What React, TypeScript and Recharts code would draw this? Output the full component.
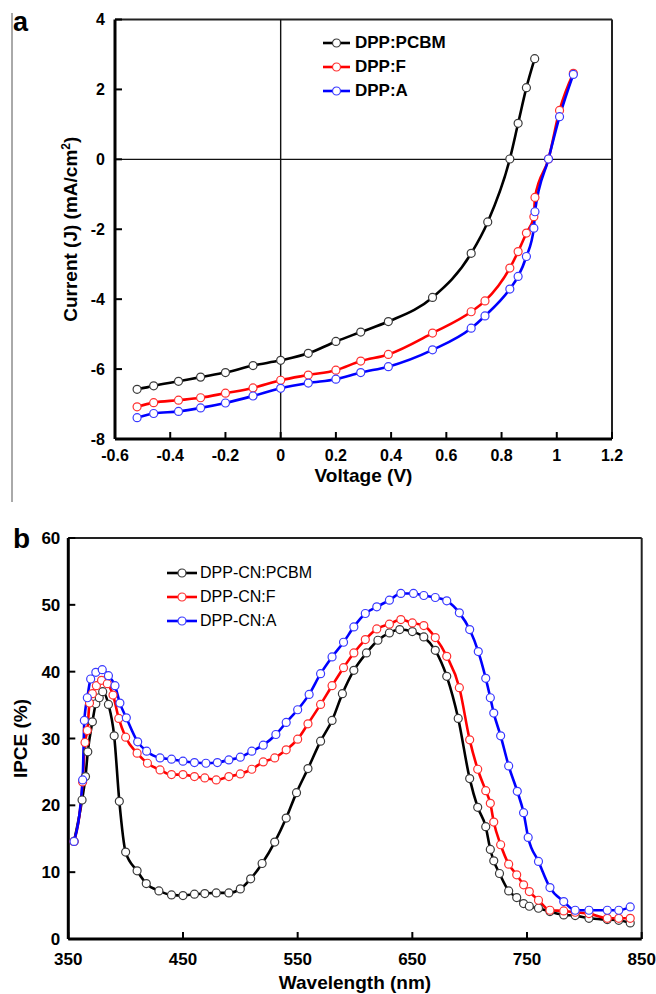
import React from 'react';
import { LineChart, Line, XAxis, YAxis, ReferenceLine, Legend, Label } from 'recharts';

const FONT = '"Liberation Sans", Arial, Helvetica, sans-serif';

// ---------- Panel a : J-V curves ----------
const pcbmVoltage = [-0.52, -0.46, -0.37, -0.29, -0.2, -0.1, 0, 0.1, 0.2, 0.29, 0.39, 0.55, 0.69, 0.75, 0.83, 0.86, 0.89, 0.92];
const pcbmCurrent = [-6.58, -6.48, -6.35, -6.23, -6.1, -5.9, -5.75, -5.55, -5.21, -4.94, -4.64, -3.95, -2.69, -1.79, 0.01, 1.03, 2.05, 2.88];

const fVoltage = [-0.52, -0.46, -0.37, -0.29, -0.2, -0.1, 0, 0.1, 0.2, 0.29, 0.39, 0.55, 0.69, 0.74, 0.83, 0.86, 0.89, 0.917, 0.921, 0.97, 1.01, 1.06];
const fCurrent = [-7.08, -6.96, -6.89, -6.82, -6.69, -6.54, -6.32, -6.17, -6.03, -5.77, -5.58, -4.97, -4.36, -4.05, -3.11, -2.64, -2.11, -1.64, -1.09, 0.01, 1.4, 2.46];

const aVoltage = [-0.52, -0.46, -0.37, -0.29, -0.2, -0.1, 0, 0.1, 0.2, 0.29, 0.39, 0.55, 0.69, 0.74, 0.83, 0.86, 0.89, 0.917, 0.921, 0.97, 1.01, 1.06];
const aCurrent = [-7.39, -7.27, -7.21, -7.11, -6.97, -6.77, -6.55, -6.4, -6.29, -6.1, -5.93, -5.45, -4.83, -4.48, -3.71, -3.35, -2.78, -1.97, -1.5, 0.01, 1.22, 2.43];

const voltageTicks = [-0.6, -0.4, -0.2, 0, 0.2, 0.4, 0.6, 0.8, 1, 1.2];
const currentTicks = [-8, -6, -4, -2, 0, 2, 4];
const seriesNamesA = ['DPP:PCBM', 'DPP:F', 'DPP:A'];

// ---------- Panel b : IPCE spectra ----------
const pcbmWl = [355, 362, 365, 367, 371, 374, 377, 380, 385, 390, 394.5, 400, 410, 418, 429, 440, 450, 460, 469, 479, 490, 500, 509, 519, 530, 540, 549, 559, 570, 580, 589, 599, 610, 620, 630, 639, 650, 660, 670, 680, 690, 700, 707, 714, 718, 721, 726, 734, 741, 747, 752, 760, 770, 782, 792, 804, 820, 830, 840];
const pcbmIpce = [14.6, 20.8, 24.3, 28.0, 32.5, 35.2, 36.1, 37.0, 35.1, 30.4, 20.6, 13.0, 10.2, 8.3, 7.2, 6.6, 6.5, 6.7, 6.8, 6.9, 6.9, 7.5, 9.0, 11.3, 14.5, 18.1, 21.9, 25.5, 29.6, 32.7, 36.7, 40.2, 42.8, 44.7, 45.8, 46.3, 46.0, 45.2, 43.2, 39.3, 33.0, 24.0, 19.7, 16.8, 13.4, 11.7, 9.8, 7.2, 6.2, 5.3, 4.9, 4.6, 4.1, 3.6, 3.5, 3.1, 2.9, 2.8, 2.4];

const fWl = [355, 362.5, 364.6, 366.6, 368.5, 371, 374.5, 379, 384, 389, 394, 400, 410, 419, 430, 440, 450, 460, 469, 479, 490, 500, 510, 520, 530, 540, 550, 559, 570, 580, 590, 599, 609, 619, 630, 640, 650, 660, 670, 680, 691, 700, 707, 714, 718, 721, 727, 734, 741, 747, 752, 760, 770, 782, 792, 804, 820, 830, 840];
const fIpce = [14.6, 23.5, 29.4, 31.2, 35.3, 36.7, 37.9, 38.7, 38.2, 36.5, 33.0, 30.2, 27.8, 26.3, 25.3, 24.6, 24.6, 24.3, 24.1, 23.8, 24.3, 24.7, 25.4, 26.5, 27.1, 28.3, 29.9, 32.2, 35.1, 37.9, 40.6, 42.8, 44.8, 46.4, 47.1, 47.8, 47.3, 46.9, 45.1, 42.3, 37.6, 29.8, 25.4, 22.2, 20.3, 17.5, 14.1, 11.2, 9.6, 8.1, 7.1, 5.8, 4.3, 4.2, 4.0, 3.8, 3.1, 3.1, 3.1];

const aWl = [355, 362.5, 364, 366.6, 369.5, 374, 379.6, 385, 390.7, 395, 400.6, 410.5, 418.3, 430, 440, 450, 460, 470, 480, 490, 500, 510, 520, 531, 540, 550, 560, 570, 580, 590, 599, 609, 619, 630, 640, 651, 660, 670, 680, 691, 700, 707.5, 714, 718, 721, 727, 734, 741.5, 747, 751, 760, 770, 782, 792, 804, 820, 830, 840];
const aIpce = [14.6, 23.8, 32.7, 36.1, 38.9, 39.9, 40.3, 39.4, 37.9, 35.3, 33.1, 29.5, 28.1, 27.1, 26.9, 26.6, 26.4, 26.3, 26.4, 26.8, 27.2, 28.1, 29.0, 30.6, 32.4, 34.3, 36.6, 39.7, 42.2, 44.4, 46.7, 48.7, 49.7, 50.7, 51.7, 51.7, 51.4, 51.1, 50.6, 48.8, 46.3, 43.0, 39.0, 36.1, 33.8, 30.4, 25.9, 22.1, 18.9, 15.2, 11.6, 7.7, 5.6, 4.3, 4.3, 4.3, 4.3, 4.8];

const wavelengthTicks = [350, 450, 550, 650, 750, 850];
const ipceTicks = [0, 10, 20, 30, 40, 50, 60];
const seriesNamesB = ['DPP-CN:PCBM', 'DPP-CN:F', 'DPP-CN:A'];

const zip = (xs: number[], ys: number[]) => xs.map((x, i) => ({ x, y: ys[i] }));

const LINE_COLORS = ['#000000', '#ff0000', '#0000ff'];
const MARKER_COLORS = ['#3a3a3a', '#ff3030', '#3a3aff'];

const makeLegend = (names: string[], opts: { bold: boolean; fontSize: number; lineW: number; gap: number }) =>
  function LegendContent() {
    return (
      <div style={{ fontFamily: FONT, fontWeight: opts.bold ? 'bold' : 'normal', fontSize: opts.fontSize, color: '#000' }}>
        {names.map((n, i) => (
          <div key={n} style={{ display: 'flex', alignItems: 'center', height: 24, whiteSpace: 'nowrap' }}>
            <svg width={opts.lineW} height={12} style={{ display: 'block' }}>
              <line x1={0} y1={6} x2={opts.lineW} y2={6} stroke={LINE_COLORS[i]} strokeWidth={2.6} />
              <circle cx={opts.lineW / 2} cy={6} r={4} fill="#fff" stroke={MARKER_COLORS[i]} strokeWidth={1.2} />
            </svg>
            <span style={{ marginLeft: opts.gap }}>{n}</span>
          </div>
        ))}
      </div>
    );
  };

const LegendA = makeLegend(seriesNamesA, { bold: true, fontSize: 17, lineW: 27, gap: 5 });
const LegendB = makeLegend(seriesNamesB, { bold: false, fontSize: 16, lineW: 30, gap: 3 });

const tickA = { fill: '#000', fontSize: 16, fontWeight: 'bold', fontFamily: FONT } as any;
const tickB = { fill: '#000', fontSize: 17, fontWeight: 'bold', fontFamily: FONT } as any;
const axisLineStyle = { stroke: '#000', strokeWidth: 3 };
const tickLineStyle = { stroke: '#000', strokeWidth: 2 };

const titleStyle = { fontFamily: FONT, fontWeight: 'bold', fontSize: 19, fill: '#000' } as any;

export default function App() {
  const seriesA = [zip(pcbmVoltage, pcbmCurrent), zip(fVoltage, fCurrent), zip(aVoltage, aCurrent)];
  const seriesB = [zip(pcbmWl, pcbmIpce), zip(fWl, fIpce), zip(aWl, aIpce)];

  return (
    <div style={{ position: 'absolute', left: 0, top: 0, width: 656, height: 994, background: '#fff' }}>
      {/* Panel a */}
      <div style={{ position: 'absolute', left: 0, top: 0 }}>
        <LineChart width={656} height={500} margin={{ top: 19.5, right: 44, bottom: 31, left: 55 }}>
          <XAxis
            type="number"
            dataKey="x"
            domain={[-0.6, 1.2]}
            ticks={voltageTicks}
            tickFormatter={(v: number) => String(Number(v.toFixed(1)))}
            tick={tickA}
            tickSize={-7}
            tickMargin={18}
            axisLine={axisLineStyle}
            tickLine={tickLineStyle}
            height={30}
            interval={0}
            allowDataOverflow
          >
            <Label
              content={(p: any) => {
                const vb = p.viewBox || { x: 115, y: 439, width: 497 };
                return (
                  <text x={vb.x + vb.width / 2} y={vb.y + 42.5} textAnchor="middle" {...titleStyle}>
                    Voltage (V)
                  </text>
                );
              }}
            />
          </XAxis>
          <YAxis
            type="number"
            domain={[-8, 4]}
            ticks={currentTicks}
            tick={tickA}
            tickSize={-7}
            tickMargin={17}
            axisLine={axisLineStyle}
            tickLine={tickLineStyle}
            width={60}
            interval={0}
            allowDataOverflow
          >
            <Label
              content={(p: any) => {
                const vb = p.viewBox || { x: 55, y: 19.5, height: 419.5 };
                const cx = 77;
                const cy = vb.y + vb.height / 2;
                return (
                  <text x={cx} y={cy} textAnchor="middle" transform={`rotate(-90, ${cx}, ${cy})`} {...titleStyle}>
                    Current (J) (mA/cm
                    <tspan dy={-7} fontSize={12}>2</tspan>
                    <tspan dy={7}>)</tspan>
                  </text>
                );
              }}
            />
          </YAxis>
          <ReferenceLine y={4} stroke="#222" strokeWidth={2} />
          <ReferenceLine x={1.2} stroke="#222" strokeWidth={2} />
          <ReferenceLine x={0} stroke="#111" strokeWidth={1.4} />
          <ReferenceLine y={0} stroke="#111" strokeWidth={1.4} />
          <Legend
            content={<LegendA />}
            layout="vertical"
            align="center"
            verticalAlign="middle"
            wrapperStyle={{ left: 323, top: 31, width: 'auto', height: 'auto' }}
          />
          {seriesA.map((d, i) => (
            <Line
              key={seriesNamesA[i]}
              name={seriesNamesA[i]}
              data={d}
              dataKey="y"
              type="monotone"
              stroke={LINE_COLORS[i]}
              strokeWidth={2.6}
              dot={{ r: 4, fill: '#fff', stroke: MARKER_COLORS[i], strokeWidth: 1.2 }}
              activeDot={false}
              isAnimationActive={false}
            />
          ))}
        </LineChart>
      </div>

      {/* Panel b */}
      <div style={{ position: 'absolute', left: 0, top: 500 }}>
        <LineChart width={656} height={494} margin={{ top: 38, right: 14.3, bottom: 25, left: 28.3 }}>
          <XAxis
            type="number"
            dataKey="x"
            domain={[350, 850]}
            ticks={wavelengthTicks}
            tick={tickB}
            tickSize={-7}
            tickMargin={21}
            axisLine={axisLineStyle}
            tickLine={tickLineStyle}
            height={30}
            interval={0}
            allowDataOverflow
          >
            <Label
              content={(p: any) => {
                const vb = p.viewBox || { x: 68.3, y: 439, width: 573.4 };
                return (
                  <text x={vb.x + vb.width / 2} y={vb.y + 49.5} textAnchor="middle" {...titleStyle}>
                    Wavelength (nm)
                  </text>
                );
              }}
            />
          </XAxis>
          <YAxis
            type="number"
            domain={[0, 60]}
            ticks={ipceTicks}
            tick={tickB}
            tickSize={-7}
            tickMargin={15}
            axisLine={axisLineStyle}
            tickLine={tickLineStyle}
            width={40}
            interval={0}
            allowDataOverflow
          >
            <Label
              content={(p: any) => {
                const vb = p.viewBox || { x: 28.3, y: 38, height: 401 };
                const cx = 26.5;
                const cy = vb.y + vb.height / 2;
                return (
                  <text x={cx} y={cy} textAnchor="middle" transform={`rotate(-90, ${cx}, ${cy})`} {...titleStyle}>
                    IPCE (%)
                  </text>
                );
              }}
            />
          </YAxis>
          <ReferenceLine y={60} stroke="#222" strokeWidth={2} />
          <ReferenceLine x={850} stroke="#222" strokeWidth={2} />
          <Legend
            content={<LegendB />}
            layout="vertical"
            align="center"
            verticalAlign="middle"
            wrapperStyle={{ left: 167, top: 61, width: 'auto', height: 'auto' }}
          />
          {seriesB.map((d, i) => (
            <Line
              key={seriesNamesB[i]}
              name={seriesNamesB[i]}
              data={d}
              dataKey="y"
              type="monotone"
              stroke={LINE_COLORS[i]}
              strokeWidth={2.6}
              dot={{ r: 4, fill: '#fff', stroke: MARKER_COLORS[i], strokeWidth: 1.2 }}
              activeDot={false}
              isAnimationActive={false}
            />
          ))}
        </LineChart>
      </div>

      {/* Panel letters and frame line */}
      <svg width={656} height={994} style={{ position: 'absolute', left: 0, top: 0, pointerEvents: 'none' }}>
        <line x1={12} y1={13} x2={12} y2={502} stroke="#555" strokeWidth={1} />
        <text x={13} y={31} fontFamily={FONT} fontWeight="bold" fontSize={27} fill="#000">a</text>
        <text x={13} y={548} fontFamily={FONT} fontWeight="bold" fontSize={28} fill="#000">b</text>
      </svg>
    </div>
  );
}
